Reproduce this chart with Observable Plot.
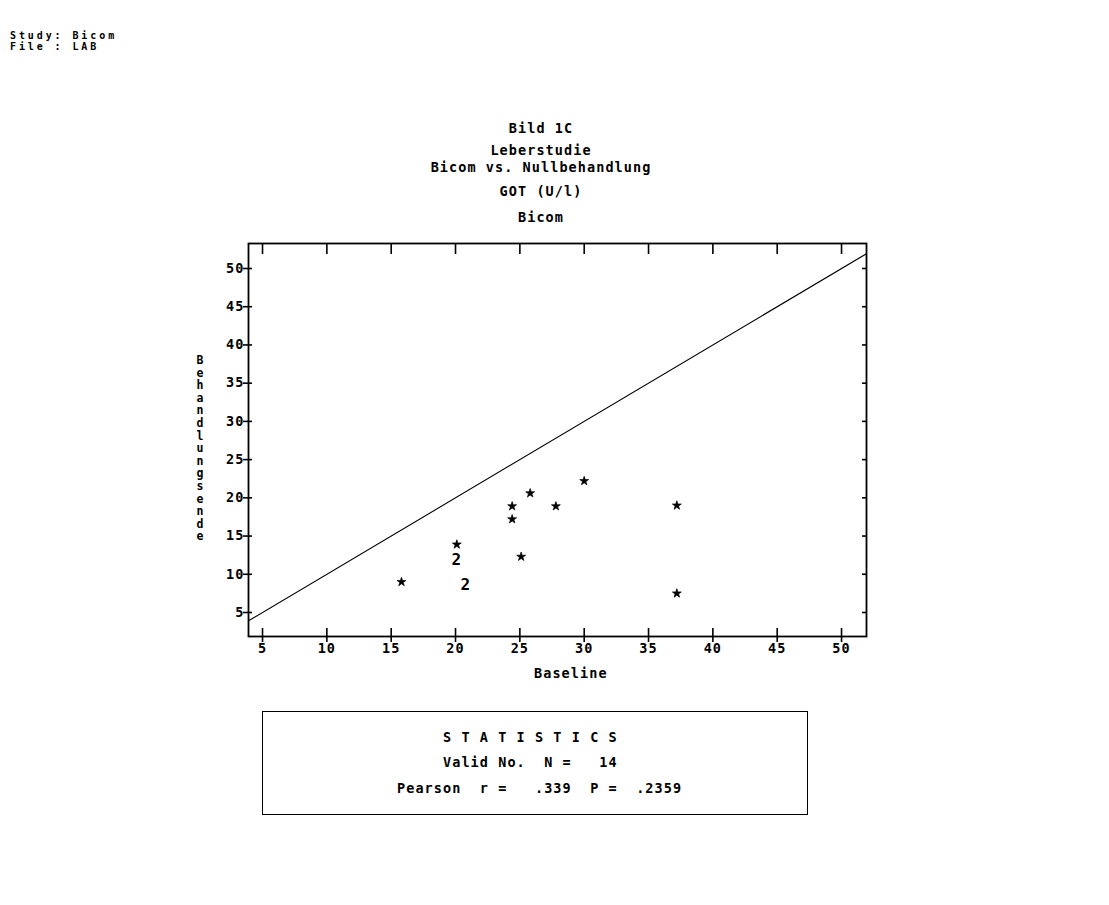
<!DOCTYPE html>
<html><head><meta charset="utf-8">
<script src="https://cdn.jsdelivr.net/npm/d3@7"></script>
<script src="https://cdn.jsdelivr.net/npm/@observablehq/plot@0.6"></script>
<style>
body{margin:0;background:#fff;}
#page{position:relative;width:1109px;height:905px;overflow:hidden;font-family:"DejaVu Sans Mono",monospace;font-size:13.5px;font-weight:bold;color:#000;background:#fff;}
.t{position:absolute;white-space:pre;line-height:12.5px;letter-spacing:1.07px;}
.c{left:0;width:1082px;text-align:center;}
#chart{position:absolute;left:0;top:0;}
#chart svg text{font-weight:bold;letter-spacing:1.07px;}
#box{position:absolute;left:262px;top:711px;width:544px;height:102px;border:1.6px solid #000;}
#ylab{position:absolute;left:193px;top:354px;width:14px;text-align:center;font-size:11.5px;line-height:12.6px;}
#ylab div{height:12.6px;overflow:visible;}
.hdr{position:absolute;left:10px;white-space:pre;font-size:10px;line-height:10px;letter-spacing:2.9px;}
</style></head><body><div id="page">
<div id="chart"></div>
<div class="hdr" style="top:30.5px">Study: Bicom</div>
<div class="hdr" style="top:42px">File : LAB</div>
<div class="t c" style="top:122.1px">Bild 1C</div>
<div class="t c" style="top:144.4px">Leberstudie</div>
<div class="t c" style="top:160.6px">Bicom vs. Nullbehandlung</div>
<div class="t c" style="top:185.1px">GOT (U/l)</div>
<div class="t c" style="top:211.1px">Bicom</div>
<div id="ylab"></div>
<div class="t" style="left:534px;top:667.1px">Baseline</div>
<div id="box"></div>
<div class="t" style="left:443px;top:731.1px">S T A T I S T I C S</div>
<div class="t" style="left:443px;top:756.1px">Valid No.  N =   14</div>
<div class="t" style="left:397px;top:782.1px">Pearson  r =   .339  P =  .2359</div>
</div>
<script>
// data
const baselineX = [15.8, 20.1, 24.4, 24.4, 25.8, 25.1, 27.8, 30.0, 37.2, 37.2, 20.1, 20.8];
const endY      = [ 9.0, 13.9, 18.9, 17.2, 20.6, 12.3, 18.9, 22.2, 19.0,  7.5, 11.9,  8.6];
const counts    = [   1,    1,    1,    1,    1,    1,    1,    1,    1,    1,    2,    2];
const xTicks = [5, 10, 15, 20, 25, 30, 35, 40, 45, 50];
const yTicks = [5, 10, 15, 20, 25, 30, 35, 40, 45, 50];
const xDomain = [3.91, 51.94];
const yDomain = [1.86, 53.27];
const identityLine = [3.91, 51.94];
const yLabel = "Behandlungsende";

const pts = baselineX.map((x, i) => ({x, y: endY[i], n: counts[i]}));
const singles = pts.filter(d => d.n === 1);
const multiples = pts.filter(d => d.n > 1);

const chart = Plot.plot({
  width: 1109, height: 905,
  marginLeft: 248, marginRight: 243, marginTop: 243, marginBottom: 269,
  style: {fontFamily: "DejaVu Sans Mono", fontSize: "13.5px", background: "transparent", color: "#000"},
  x: {domain: xDomain, ticks: xTicks, label: null},
  y: {domain: yDomain, ticks: yTicks, label: null},
  marks: [
    Plot.frame({stroke: "#000", strokeWidth: 1.8}),
    Plot.axisX({anchor: "bottom", ticks: xTicks, tickSize: 0, tickPadding: 7, label: null}),
    Plot.axisX({anchor: "bottom", ticks: xTicks, text: null, tickSize: 14, dy: -8, strokeWidth: 1.6, label: null}),
    Plot.axisX({anchor: "top", ticks: xTicks, text: null, tickSize: 10, dy: 10, strokeWidth: 1.6, label: null}),
    Plot.axisY({anchor: "left", ticks: yTicks, tickSize: 0, tickPadding: 4, label: null}),
    Plot.axisY({anchor: "left", ticks: yTicks, text: null, tickSize: 9, dx: 4, strokeWidth: 1.6, label: null}),
    Plot.axisY({anchor: "right", ticks: yTicks, text: null, tickSize: 5, dx: -5, strokeWidth: 1.6, label: null}),
    Plot.line(identityLine, {x: d => d, y: d => d, stroke: "#000", strokeWidth: 1.1}),
    Plot.dot(singles, {x: "x", y: "y", symbol: "star", r: 2.8, fill: "#000", stroke: "#000", strokeWidth: 0.7}),
    Plot.text(multiples, {x: "x", y: "y", text: d => String(d.n), fontSize: 16, fontWeight: "bold", fill: "#000"})
  ]
});
document.getElementById("chart").appendChild(chart);
document.getElementById("ylab").innerHTML = yLabel.split("").map(c => `<div>${c}</div>`).join("");
</script>
</body></html>
